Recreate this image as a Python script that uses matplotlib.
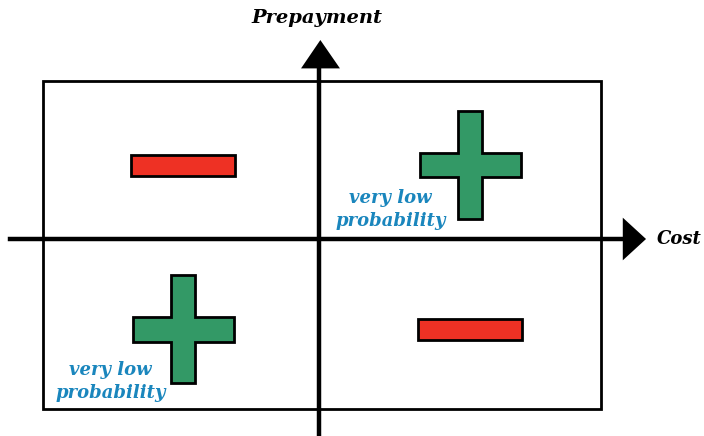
import matplotlib
matplotlib.use('Agg')
from matplotlib import pyplot as plt
from matplotlib.patches import Polygon, Rectangle

# quadrant contents (cost sign, prepayment sign)
quadrants = ['low cost / high prepay', 'high cost / high prepay',
             'low cost / low prepay', 'high cost / low prepay']
quad_x = [-1, 1, -1, 1]
quad_y = [1, 1, -1, -1]
signs = ['-', '+', '+', '-']
notes = ['', 'very low\nprobability', 'very low\nprobability', '']
x_label = 'Cost'
y_label = 'Prepayment'

RED = '#ee3124'
GREEN = '#339966'
BLUE = '#1a86bd'

def plus_shape(cx, cy, w, h, tw, th):
    # w,h = total size, tw = vertical arm width, th = horizontal arm height
    pts = [(cx - tw/2, cy + h/2), (cx + tw/2, cy + h/2), (cx + tw/2, cy + th/2),
           (cx + w/2, cy + th/2), (cx + w/2, cy - th/2), (cx + tw/2, cy - th/2),
           (cx + tw/2, cy - h/2), (cx - tw/2, cy - h/2), (cx - tw/2, cy - th/2),
           (cx - w/2, cy - th/2), (cx - w/2, cy + th/2), (cx - tw/2, cy + th/2)]
    return Polygon(pts, closed=True, fc=GREEN, ec='black', lw=2, zorder=3)

fig = plt.figure(figsize=(7.04, 4.36), dpi=100)
ax = fig.add_axes([0, 0, 1, 1])
ax.set_xlim(-1.139, 1.375)
ax.set_ylim(-1.201, 1.457)
ax.axis('off')

# frame
ax.add_patch(Rectangle((-0.985, -1.037), 1.992, 2.0, fill=False, ec='black', lw=2, zorder=1))

# axes lines and arrow heads
ax.plot([-1.104, 1.085], [0, 0], color='black', lw=3.2, zorder=2)
ax.plot([0, 0], [-1.201, 1.05], color='black', lw=3.2, zorder=2)
ax.add_patch(Polygon([(1.085, 0.13), (1.085, -0.13), (1.168, 0)], closed=True, fc='black', ec='none', zorder=2))
ax.add_patch(Polygon([(-0.064, 1.04), (0.075, 1.04), (0.005, 1.213)], closed=True, fc='black', ec='none', zorder=2))

font = dict(family='DejaVu Serif', fontweight='bold', fontstyle='italic')
ax.text(1.205, 0.0, x_label, ha='left', va='center', fontsize=13, **font)
ax.text(-0.006, 1.35, y_label, ha='center', va='center', fontsize=14, **font)

for q, qx, qy, s, note in zip(quadrants, quad_x, quad_y, signs, notes):
    cx = 0.54 if qx > 0 else -0.485
    cy = 0.45 if qy > 0 else -0.55
    if s == '-':
        ax.add_patch(Rectangle((cx - 0.185, cy - 0.063), 0.37, 0.126, fc=RED, ec='black', lw=2, zorder=3))
    else:
        ax.add_patch(plus_shape(cx, cy, 0.36, 0.655, 0.085, 0.15))
    if note:
        nx = 0.255 if qx > 0 else -0.745
        ny = 0.178 if qy > 0 else -0.868
        ax.text(nx, ny, note, ha='center', va='center', color=BLUE, fontsize=13,
                linespacing=1.35, **font)

fig.savefig('out.png', dpi=100)
